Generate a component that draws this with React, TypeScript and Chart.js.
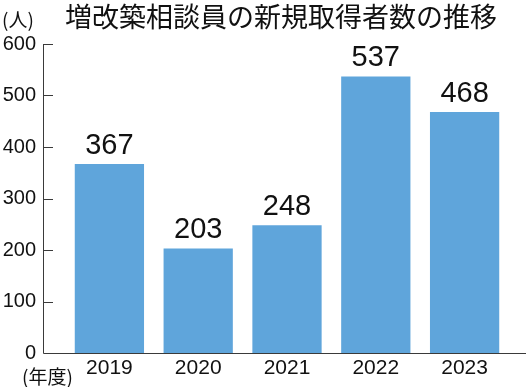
import React, { useEffect, useRef } from "react";
import { Chart, registerables } from "chart.js";

Chart.register(...registerables);

const TITLE = "増改築相談員の新規取得者数の推移";
const Y_UNIT = "(人)";
const X_UNIT = "(年度)";
const YEARS = ["2019", "2020", "2021", "2022", "2023"];
const VALUES = [367, 203, 248, 537, 468];
const Y_TICKS = [0, 100, 200, 300, 400, 500, 600];

const BAR_COLOR = "#5fa5db";
const AXIS_COLOR = "#3a3a3a";
const LATIN = "'Liberation Sans', Arial, sans-serif";
const CJK = "'Noto Sans CJK JP', sans-serif";

const decor = {
  id: "decor",
  afterDraw(chart: any) {
    const ctx = chart.ctx;
    const area = chart.chartArea;
    const y = chart.scales.y;
    const axisX = area.left - 22;
    ctx.save();
    ctx.strokeStyle = AXIS_COLOR;
    ctx.lineWidth = 1;
    ctx.beginPath();
    ctx.moveTo(axisX + 0.5, y.getPixelForValue(600));
    ctx.lineTo(axisX + 0.5, area.bottom + 0.5);
    ctx.lineTo(chart.width, area.bottom + 0.5);
    Y_TICKS.forEach((v) => {
      if (v === 0) return;
      const py = Math.round(y.getPixelForValue(v)) + 0.5;
      ctx.moveTo(axisX, py);
      ctx.lineTo(axisX + 10, py);
    });
    ctx.stroke();

    const meta = chart.getDatasetMeta(0);
    ctx.fillStyle = "#111";
    ctx.font = `29px ${LATIN}`;
    ctx.textAlign = "center";
    ctx.textBaseline = "alphabetic";
    meta.data.forEach((bar: any, i: number) => {
      ctx.fillText(String(VALUES[i]), bar.x, bar.y - 10);
    });

    ctx.font = `27px ${CJK}`;
    ctx.textAlign = "center";
    ctx.textBaseline = "middle";
    ctx.fillText(TITLE, 281, 17);

    ctx.font = `19px ${CJK}`;
    ctx.textAlign = "left";
    ctx.fillText(Y_UNIT, 2, 20);
    ctx.fillText(X_UNIT, 22, 377);
    ctx.restore();
  },
};

export default function App() {
  const ref = useRef<HTMLCanvasElement | null>(null);
  useEffect(() => {
    document.body.style.margin = "0";
    const chart = new Chart(ref.current as HTMLCanvasElement, {
      type: "bar",
      data: {
        labels: YEARS,
        datasets: [
          {
            data: VALUES,
            backgroundColor: BAR_COLOR,
            borderWidth: 0,
            categoryPercentage: 1,
            barPercentage: 0.78,
          },
        ],
      },
      options: {
        animation: false,
        responsive: false,
        layout: { padding: { top: 44, right: 17, left: 0, bottom: 0 } },
        plugins: { legend: { display: false }, tooltip: { enabled: false }, title: { display: false } },
        scales: {
          x: {
            grid: { display: false, drawTicks: false },
            border: { display: false },
            ticks: { color: "#111", font: { family: LATIN, size: 21 }, padding: 3 },
            afterFit: (s: any) => {
              s.height = 34;
              s.paddingTop = 0;
              s.paddingBottom = 0;
            },
          },
          y: {
            min: 0,
            max: 600,
            grid: { display: false, drawTicks: false },
            border: { display: false },
            afterBuildTicks: (s: any) => {
              s.ticks = Y_TICKS.map((v) => ({ value: v }));
            },
            ticks: { color: "#111", font: { family: LATIN, size: 20 }, padding: 29 },
            afterFit: (s: any) => {
              s.width = 65;
              s.paddingTop = 0;
              s.paddingBottom = 0;
            },
          },
        },
      },
      plugins: [decor],
    });
    return () => chart.destroy();
  }, []);
  return <canvas ref={ref} width={526} height={387} style={{ display: "block" }} />;
}
